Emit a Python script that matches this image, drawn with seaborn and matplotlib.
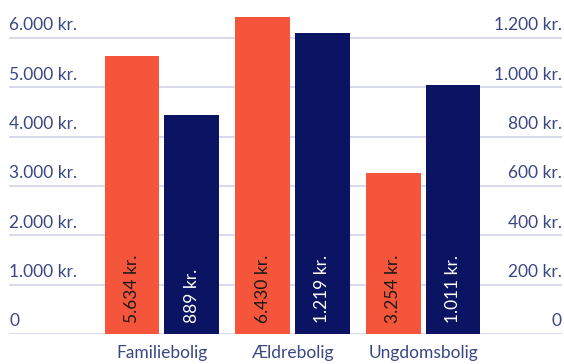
import matplotlib
matplotlib.use("Agg")
import matplotlib.pyplot as plt
import seaborn as sns
import pandas as pd

categories = ["Familiebolig", "Ældrebolig", "Ungdomsbolig"]
series = ["Husleje", "Tilskud"]
left_values = [5634, 6430, 3254]      # kr., left axis
right_values = [889, 1219, 1011]      # kr., right axis
left_ticks = [0, 1000, 2000, 3000, 4000, 5000, 6000]
right_ticks = [0, 200, 400, 600, 800, 1000, 1200]

ORANGE = "#F5553B"
NAVY = "#0B1462"
GRID = "#CDD0E6"
TEXT = "#3A4785"
FS = 12.5


def kr(v):
    return "0" if v == 0 else f"{v:,.0f}".replace(",", ".") + " kr."


sns.set_theme(style="white")
plt.rcParams["font.family"] = ["Lato", "DejaVu Sans"]

fig = plt.figure(figsize=(5.64, 3.64), dpi=100)
ax1 = fig.add_axes([9 / 564, 30 / 364, 553 / 564, 334 / 364])
ax2 = ax1.twinx()

df_left = pd.DataFrame({"kategori": categories, "serie": series[0], "kr": left_values})
df_right = pd.DataFrame({"kategori": categories, "serie": series[1], "kr": right_values})
palette = {series[0]: ORANGE, series[1]: NAVY}

common = dict(x="kategori", y="kr", hue="serie", hue_order=series, order=categories,
              palette=palette, width=0.912, gap=0.085, dodge=True, legend=False,
              saturation=1, linewidth=0)
sns.barplot(data=df_left, ax=ax1, **common)
sns.barplot(data=df_right, ax=ax2, **common)

top_left = 6000 * 334 / 296
ax1.set_ylim(0, top_left)
ax2.set_ylim(0, top_left / 5)
ax1.set_xlim(-1.167, 3.06)

# gridlines drawn with the left scale
for t in left_ticks:
    ax1.axhline(t, color=GRID, lw=1.1, zorder=0)

for ax in (ax1, ax2):
    ax.set_yticks([])
    ax.set_xlabel("")
    ax.set_ylabel("")
    for s in ax.spines.values():
        s.set_visible(False)
ax1.tick_params(axis="x", length=0, pad=8, labelsize=FS, labelcolor=TEXT)
ax2.tick_params(axis="x", labelbottom=False, length=0)

# tick labels sit just above each gridline
for t in left_ticks:
    ax1.annotate(kr(t), (0, t), xycoords=("axes fraction", "data"), xytext=(0, 5.5),
                 textcoords="offset points", ha="left", va="baseline",
                 fontsize=FS, color=TEXT)
for t in right_ticks:
    ax2.annotate(kr(t), (1, t), xycoords=("axes fraction", "data"), xytext=(0, 5.5),
                 textcoords="offset points", ha="right", va="baseline",
                 fontsize=FS, color=TEXT)

# value labels inside the bars
for cont, ax, col in ((ax1.containers[0], ax1, "#1a1a1a"), (ax2.containers[-1], ax2, "white")):
    for bar in cont:
        v = bar.get_height()
        ax.annotate(kr(v), (bar.get_x() + bar.get_width() / 2, 0), xytext=(0, 8),
                    textcoords="offset points", ha="center", va="bottom",
                    rotation=90, fontsize=FS, color=col)

fig.savefig("out.png", dpi=100)
